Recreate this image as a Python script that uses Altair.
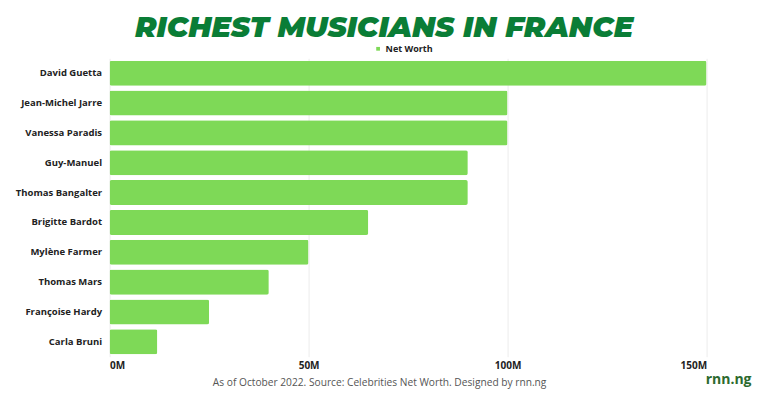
import altair as alt
import pandas as pd

names = ["David Guetta", "Jean-Michel Jarre", "Vanessa Paradis", "Guy-Manuel",
         "Thomas Bangalter", "Brigitte Bardot", "Mylène Farmer", "Thomas Mars",
         "Françoise Hardy", "Carla Bruni"]
net_worth = [150, 100, 100, 90, 90, 65, 50, 40, 25, 12]
series = ["Net Worth"] * len(names)
x_ticks = [0, 50, 100, 150]

title_text = "RICHEST MUSICIANS IN FRANCE"
footnote = "As of October 2022. Source: Celebrities Net Worth. Designed by rnn.ng"
logo = "rnn.ng"

df = pd.DataFrame({"name": names, "value": net_worth, "series": series})

W, H = 597, 298.4
FONT = "Open Sans"

bars = alt.Chart(df).mark_bar(cornerRadius=2).encode(
    x=alt.X("value:Q",
            scale=alt.Scale(domain=[0, 150], nice=False),
            axis=alt.Axis(values=x_ticks, labelExpr="datum.value + 'M'",
                          title=None, domain=False, ticks=False, grid=True,
                          gridColor="#ececec", labelFont=FONT, labelFontSize=10,
                          labelFontWeight="bold", labelColor="#222222",
                          labelPadding=4)),
    y=alt.Y("name:N", sort=names,
            scale=alt.Scale(paddingInner=0.16, paddingOuter=0.08),
            axis=alt.Axis(title=None, domain=False, ticks=False,
                          labelFont=FONT, labelFontSize=9.5,
                          labelFontWeight="bold", labelColor="#222222",
                          labelPadding=8)),
    color=alt.Color("series:N",
                    scale=alt.Scale(range=["#7ed957"]),
                    legend=alt.Legend(title=None, orient="none",
                                      legendX=264, legendY=-14,
                                      symbolType="square", symbolSize=14,
                                      labelFont=FONT, labelFontSize=9,
                                      labelFontWeight="bold",
                                      labelColor="#222222", symbolOffset=0,
                                      labelOffset=3)),
)

title_df = pd.DataFrame({"t": [title_text]})
title = alt.Chart(title_df).mark_text(
    font="Montserrat, Open Sans", fontSize=29, fontWeight=900, fontStyle="italic",
    color="#0a7d36", align="center", baseline="middle"
).encode(text="t:N", x=alt.value(274.5), y=alt.value(-30.5))

foot_df = pd.DataFrame({"t": [footnote]})
foot = alt.Chart(foot_df).mark_text(
    font=FONT, fontSize=10.2, color="#555555", align="center", baseline="middle"
).encode(text="t:N", x=alt.value(270), y=alt.value(325))

logo_df = pd.DataFrame({"t": [logo]})
logo_m = alt.Chart(logo_df).mark_text(
    font=FONT, fontSize=14, fontWeight="bold", color="#2c6a2e",
    align="center", baseline="middle"
).encode(text="t:N", x=alt.value(619), y=alt.value(322))

chart = alt.layer(bars, title, foot, logo_m).properties(
    width=W, height=H,
    autosize=alt.AutoSizeParams(type="none"),
    padding={"left": 101.6, "top": 50.3, "right": 752 - 101.6 - W, "bottom": 386 - 50.3 - H},
    background="white",
).configure_view(stroke=None)

chart.save("out.html", embed_options={"renderer": "svg", "actions": False})
